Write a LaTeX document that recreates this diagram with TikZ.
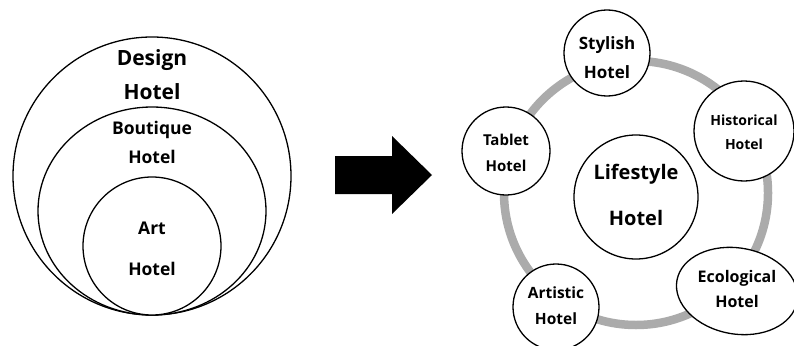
\documentclass[tikz,border=0pt]{standalone}
\usepackage{fontspec}
\setmainfont{Open Sans}
\usetikzlibrary{shapes.geometric}

\tikzset{
  bubble/.style={draw, circle, line width=1.3pt, fill=white, inner sep=0pt},
  oval/.style={draw, ellipse, line width=1.3pt, fill=white, inner sep=0pt},
  word/.style={align=center, inner sep=0pt},
}
\newcommand{\wsize}[2]{\fontsize{#1}{#2}\selectfont\bfseries}

\begin{document}
\begin{tikzpicture}[x=1pt,y=-1pt]
\useasboundingbox (0,0) rectangle (794,345);
% nested hotels
\node[bubble, minimum size=278] (design) at (152,176) {};
\node[oval, minimum width=228, minimum height=208] (boutique) at (152,211) {};
\node[bubble, minimum size=138] (art) at (152,246) {};
\node[word, font=\wsize{21}{34}] (designtxt) at (152,75) {Design\\Hotel};
\node[word, font=\wsize{17.5}{29}] (boutiquetxt) at (152,142.5) {Boutique\\Hotel};
\node[word, font=\wsize{17.5}{41}] (arttxt) at (152,248.5) {Art\\Hotel};
% arrow
\fill (335,156) -- (392,156) -- (392,136) -- (432,175) -- (392,214) -- (392,194) -- (335,194) -- cycle;
% lifestyle ring
\draw[black!33, line width=8.5pt] (636,193) circle (132);
\node[bubble, minimum size=124] (life) at (636,197) {};
\node[bubble, minimum size=86] (sty) at (607,53) {};
\node[bubble, minimum size=100] (his) at (744,131) {};
\node[bubble, minimum size=88] (tab) at (506,151) {};
\node[bubble, minimum size=86] (arti) at (556,307) {};
\node[oval, minimum width=122, minimum height=86, rotate=-10] (eco) at (737,291) {};
\node[word, font=\wsize{20}{46}] (lifetxt) at (636,195) {Lifestyle\\Hotel};
\node[word, font=\wsize{17}{29}] (stytxt) at (607,58) {Stylish\\Hotel};
\node[word, font=\wsize{14}{24}] (histxt) at (744,132.5) {Historical\\Hotel};
\node[word, font=\wsize{15}{26}] (tabtxt) at (506,153) {Tablet\\Hotel};
\node[word, font=\wsize{15.5}{26}] (artitxt) at (556,306) {Artistic\\Hotel};
\node[word, font=\wsize{16}{25}] (ecotxt) at (737,288.5) {Ecological\\Hotel};
\end{tikzpicture}
\end{document}
